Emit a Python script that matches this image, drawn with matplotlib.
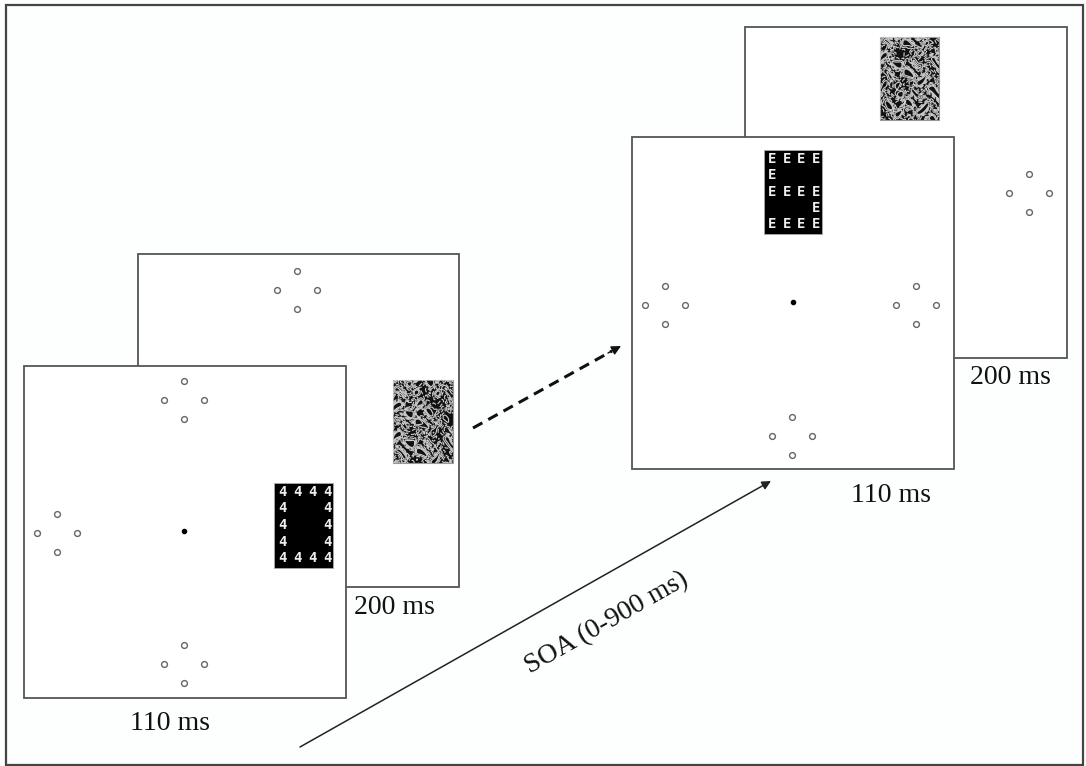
import numpy as np
import matplotlib
matplotlib.use('Agg')
import matplotlib.pyplot as plt
from matplotlib.patches import Rectangle

W, H = 1086, 766

# screens as (left, top, right, bottom) in picture pixels
screens_back = [(138, 254, 459, 587), (745, 27, 1067, 358)]
screens_front = [(24, 366, 346, 698), (632, 137, 954, 469)]

# placeholder rings: centre of each diamond of four rings
clusters_back = [(297, 290), (1029, 193)]
clusters_front = [(184, 400), (57, 533), (184, 664),
                  (665, 305), (916, 305), (792, 436)]
fixations = [(184, 531), (793, 302)]

# masks shown in the 200 ms screens
masks = [(393, 380, 453, 463), (880, 37, 939, 120)]

# hierarchical letter stimuli in the 110 ms screens
letter_boxes = [(274, 483, 333, 568), (764, 150, 822, 234)]
letters = ['4', 'E']
letter_layout = [
    ["1111", "1001", "1001", "1001", "1111"],
    ["1111", "1000", "1111", "0001", "1111"],
]

labels = [("200 ms", 354, 608), ("110 ms", 130, 724),
          ("200 ms", 970, 378), ("110 ms", 851, 495)]

plt.rcParams['font.family'] = ['Liberation Serif', 'DejaVu Serif']

fig = plt.figure(figsize=(W / 100, H / 100), dpi=100)
fig.patch.set_facecolor('#fdfefe')
ax = fig.add_axes([0, 0, 1, 1])
ax.set_xlim(0, W)
ax.set_ylim(H, 0)
ax.axis('off')

# outer border
ax.add_patch(Rectangle((6, 5), 1077, 760, fc='none', ec='#444444', lw=1.6, zorder=0))


def draw_screen(box, z):
    x0, y0, x1, y1 = box
    ax.add_patch(Rectangle((x0, y0), x1 - x0, y1 - y0, fc='white',
                           ec='#555555', lw=1.3, zorder=z))


def draw_cluster(c, z):
    cx, cy = c
    xs = [cx, cx - 20, cx + 20, cx]
    ys = [cy - 19, cy, cy, cy + 19]
    ax.plot(xs, ys, 'o', ms=4.2, mfc='white', mec='#666666', mew=1.0,
            ls='none', zorder=z)


def draw_mask(box, phase, z):
    x0, y0, x1, y1 = box
    rect = Rectangle((x0, y0), x1 - x0, y1 - y0, fc='#111111', ec='#999999',
                     lw=0.8, zorder=z)
    ax.add_patch(rect)
    X, Y = np.meshgrid(np.linspace(x0, x1, 160), np.linspace(y0, y1, 220))
    u = (X - x0) / 3.2
    v = (Y - y0) / 3.2
    f = (np.sin(u * 1.1 + 2 * np.sin(v * 0.7 + phase))
         + np.cos(v * 1.3 + 2 * np.sin(u * 0.9) + phase)
         + 0.6 * np.sin(u * 0.6 - v * 0.8 + 2 * phase))
    cs = ax.contour(X, Y, f, levels=[-1.5, -0.8, -0.1, 0.6, 1.3],
                    colors='#cfcfcf', linewidths=0.8, zorder=z + 0.1)
    cs.set_clip_path(rect)


def draw_letters(box, ch, layout, z):
    x0, y0, x1, y1 = box
    ax.add_patch(Rectangle((x0, y0), x1 - x0, y1 - y0, fc='black',
                           ec='#aaaaaa', lw=0.6, zorder=z))
    cols = np.linspace(x0 + 8, x1 - 6, 4)
    rows = np.linspace(y0 + 9, y1 - 10, 5)
    for r, row in enumerate(layout):
        for c, on in enumerate(row):
            if on == '1':
                ax.text(cols[c], rows[r], ch, color='#eeeeee', fontsize=10,
                        fontweight='bold', family='DejaVu Sans Mono',
                        ha='center', va='center', zorder=z + 0.1)


# back (200 ms) screens
for i, box in enumerate(screens_back):
    draw_screen(box, 1)
    draw_cluster(clusters_back[i], 2)
    draw_mask(masks[i], 0.7 + i * 1.9, 2)

# front (110 ms) screens
for i, box in enumerate(screens_front):
    draw_screen(box, 3)
    draw_letters(letter_boxes[i], letters[i], letter_layout[i], 4)
for c in clusters_front:
    draw_cluster(c, 4)
fx, fy = zip(*fixations)
ax.plot(fx, fy, 'o', ms=3, color='black', ls='none', zorder=4)

for txt, x, y in labels:
    ax.text(x, y, txt, fontsize=20, ha='left', va='center', color='#111111', zorder=5)

# dashed arrow between trials
ax.plot([473, 612], [428, 351], color='#111111', lw=2.2, ls=(0, (3.5, 2.2)), zorder=5)
ax.annotate('', xy=(621, 346), xytext=(608, 353),
            arrowprops=dict(arrowstyle='-|>', color='#111111', lw=1,
                            mutation_scale=14, shrinkA=0, shrinkB=0), zorder=5)

# SOA arrow
ax.annotate('', xy=(771, 481), xytext=(300, 747),
            arrowprops=dict(arrowstyle='-|>', color='#222222', lw=1.1,
                            mutation_scale=13, shrinkA=0, shrinkB=0), zorder=5)
ax.text(607, 623, 'SOA (0-900 ms)', fontsize=20, rotation=29.5,
        rotation_mode='anchor', ha='center', va='center', color='#111111', zorder=5)

fig.savefig('out.png', dpi=100, facecolor=fig.get_facecolor())
